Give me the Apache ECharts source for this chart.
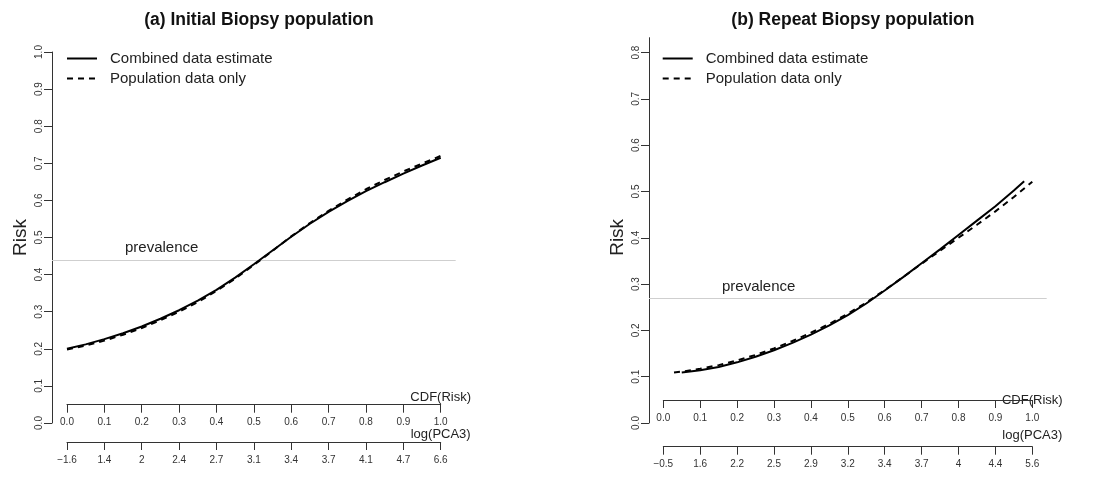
<!DOCTYPE html>
<html><head><meta charset="utf-8">
<script src="https://cdn.jsdelivr.net/npm/echarts@6/dist/echarts.min.js"></script>
<style>html,body{margin:0;padding:0;background:#fff}#c{width:1097px;height:477px}</style>
</head><body><div id="c"></div>
<script>
// ---- data ----
const cdfTicks = [0, 0.1, 0.2, 0.3, 0.4, 0.5, 0.6, 0.7, 0.8, 0.9, 1.0];
const pcaLabelsA = ["\u22121.6", "1.4", "2", "2.4", "2.7", "3.1", "3.4", "3.7", "4.1", "4.7", "6.6"];
const pcaLabelsB = ["\u22120.5", "1.6", "2.2", "2.5", "2.9", "3.2", "3.4", "3.7", "4", "4.4", "5.6"];
const riskTicksA = [0, 0.1, 0.2, 0.3, 0.4, 0.5, 0.6, 0.7, 0.8, 0.9, 1.0];
const riskTicksB = [0, 0.1, 0.2, 0.3, 0.4, 0.5, 0.6, 0.7, 0.8];

const cdfA = [0, 0.05, 0.1, 0.15, 0.2, 0.25, 0.3, 0.35, 0.4, 0.45, 0.5, 0.55, 0.6, 0.65, 0.7, 0.75, 0.8, 0.85, 0.9, 0.95, 1.0];
const combinedA = [0.200, 0.212, 0.226, 0.242, 0.260, 0.281, 0.304, 0.330, 0.359, 0.392, 0.428, 0.465, 0.502, 0.537, 0.569, 0.598, 0.625, 0.649, 0.672, 0.694, 0.715];
const populationA = [0.198, 0.209, 0.222, 0.238, 0.256, 0.277, 0.300, 0.326, 0.356, 0.389, 0.426, 0.464, 0.503, 0.539, 0.572, 0.602, 0.630, 0.655, 0.678, 0.699, 0.720];
const prevalenceA = 0.44;

const cdfCombinedB = [0.05, 0.1, 0.15, 0.2, 0.25, 0.3, 0.35, 0.4, 0.45, 0.5, 0.55, 0.6, 0.65, 0.7, 0.75, 0.8, 0.85, 0.9, 0.95, 0.978];
const combinedB = [0.109, 0.114, 0.121, 0.131, 0.143, 0.157, 0.173, 0.191, 0.211, 0.233, 0.258, 0.286, 0.315, 0.345, 0.375, 0.406, 0.437, 0.468, 0.502, 0.522];
const cdfPopulationB = [0.029, 0.05, 0.1, 0.15, 0.2, 0.25, 0.3, 0.35, 0.4, 0.45, 0.5, 0.55, 0.6, 0.65, 0.7, 0.75, 0.8, 0.85, 0.9, 0.95, 1.0];
const populationB = [0.109, 0.111, 0.117, 0.125, 0.135, 0.147, 0.161, 0.177, 0.195, 0.214, 0.236, 0.260, 0.287, 0.315, 0.344, 0.372, 0.400, 0.428, 0.457, 0.488, 0.521];
const prevalenceB = 0.267;

const titles = ["(a) Initial Biopsy population", "(b) Repeat Biopsy population"];
const seriesNames = ["Combined data estimate", "Population data only"];

// ---- styling helpers ----
const FONT = "'Liberation Sans', Arial, Helvetica, sans-serif";
const AX = '#333';
const TXT = '#222';
const zip = (xs, ys) => xs.map((x, i) => [x, ys[i]]);

function cdfAxis(grid, offset, nameOpts) {
  return {
    gridIndex: grid, type: 'value', position: 'bottom', min: 0, max: 1, interval: 0.1, offset: offset,
    axisLine: { show: true, onZero: false, lineStyle: { color: AX, width: 1 } },
    axisTick: { show: true, length: 8, lineStyle: { color: AX, width: 1 } },
    axisLabel: { fontSize: 10, color: AX, margin: 13, fontFamily: FONT, formatter: v => v.toFixed(1) },
    splitLine: { show: false },
    name: 'CDF(Risk)', nameLocation: 'end', nameGap: 0,
    nameTextStyle: Object.assign({ fontSize: 13, color: TXT, fontFamily: FONT, align: 'center' }, nameOpts)
  };
}
function pcaAxis(grid, offset, labels, nameOpts) {
  return {
    gridIndex: grid, type: 'value', position: 'bottom', min: 0, max: 1, interval: 0.1, offset: offset,
    axisLine: { show: true, onZero: false, lineStyle: { color: AX, width: 1 } },
    axisTick: { show: true, length: 8, lineStyle: { color: AX, width: 1 } },
    axisLabel: { fontSize: 10, color: AX, margin: 13, fontFamily: FONT, formatter: v => labels[Math.round(v * 10)] },
    splitLine: { show: false },
    name: 'log(PCA3)', nameLocation: 'end', nameGap: 0,
    nameTextStyle: Object.assign({ fontSize: 13, color: TXT, fontFamily: FONT, align: 'center' }, nameOpts)
  };
}
function hiddenX(grid) {
  return { gridIndex: grid, type: 'value', min: -0.04, max: 1.04, show: false, splitLine: { show: false } };
}
function hiddenY(grid, max) {
  return { gridIndex: grid, type: 'value', min: 0, max: max, show: false, splitLine: { show: false } };
}
function riskAxis(grid, max, ticks, namePad) {
  return {
    gridIndex: grid, type: 'value', position: 'left', min: 0, max: max,
    axisLine: { show: true, onZero: false, lineStyle: { color: AX, width: 1 } },
    axisTick: { show: true, length: 8, customValues: ticks, lineStyle: { color: AX, width: 1 } },
    axisLabel: { rotate: 90, fontSize: 10, color: AX, margin: 8, fontFamily: FONT, customValues: ticks, formatter: v => v.toFixed(1) },
    splitLine: { show: false },
    name: 'Risk', nameLocation: 'middle', nameGap: 22,
    nameTextStyle: { fontSize: 19, color: TXT, fontFamily: FONT, padding: namePad }
  };
}
function curve(name, xi, yi, data, dashed) {
  return {
    name: name, type: 'line', xAxisIndex: xi, yAxisIndex: yi, data: data,
    symbol: 'none', showSymbol: false, smooth: false,
    lineStyle: { color: '#000', width: 2, type: dashed ? [6, 5] : 'solid' },
    itemStyle: { color: '#000' }, z: 5
  };
}
function prevalence(xi, yi, value) {
  return {
    name: 'prevalence', type: 'line', xAxisIndex: xi, yAxisIndex: yi, data: [], silent: true,
    markLine: {
      silent: true, symbol: 'none', animation: false,
      lineStyle: { color: '#cfcfcf', width: 1, type: 'solid' },
      label: { show: true, formatter: 'prevalence', position: 'insideStartTop', distance: [73, 4], fontSize: 15, color: TXT, fontFamily: FONT },
      data: [{ yAxis: value }]
    }
  };
}
function legend(left) {
  return {
    data: seriesNames, left: left, top: 51, orient: 'vertical', padding: 0,
    itemWidth: 30, itemHeight: 14, itemGap: 5,
    itemStyle: { opacity: 0 },
    textStyle: { fontSize: 15, color: TXT, fontFamily: FONT, padding: [0, 0, 0, 8] }
  };
}

const option = {
  animation: false,
  backgroundColor: '#fff',
  textStyle: { fontFamily: FONT },
  title: [
    { text: titles[0], left: 253.9, top: 6, textAlign: 'center', textStyle: { fontSize: 17.5, fontWeight: 'bold', color: '#111', fontFamily: FONT } },
    { text: titles[1], left: 847.9, top: 6, textAlign: 'center', textStyle: { fontSize: 17.5, fontWeight: 'bold', color: '#111', fontFamily: FONT } }
  ],
  legend: [legend(66), legend(661.7)],
  grid: [
    { left: 67, top: 52, width: 373.7, height: 371, containLabel: false },
    { left: 52, top: 52, width: 403.7, height: 371, containLabel: false },
    { left: 663.3, top: 37.7, width: 369, height: 385.3, containLabel: false },
    { left: 649, top: 37.7, width: 397.7, height: 385.3, containLabel: false }
  ],
  xAxis: [
    cdfAxis(0, -18.3, { verticalAlign: 'bottom', padding: [0, 0, 1, 0] }),
    pcaAxis(0, 19, pcaLabelsA, { verticalAlign: 'bottom', padding: [0, 0, 1, 0] }),
    hiddenX(1),
    cdfAxis(2, -23, { verticalAlign: 'middle', padding: [0, 0, 5, 0] }),
    pcaAxis(2, 23.7, pcaLabelsB, { verticalAlign: 'bottom', padding: [0, 0, 5, 0] }),
    hiddenX(3)
  ],
  yAxis: [
    hiddenY(0, 1),
    riskAxis(1, 1, riskTicksA, [0, 0, 0, 0]),
    hiddenY(2, 0.832),
    riskAxis(3, 0.832, riskTicksB, [0, 14, 0, 0])
  ],
  series: [
    prevalence(2, 1, prevalenceA),
    curve(seriesNames[0], 0, 0, zip(cdfA, combinedA), false),
    curve(seriesNames[1], 0, 0, zip(cdfA, populationA), true),
    prevalence(5, 3, prevalenceB),
    curve(seriesNames[0], 3, 2, zip(cdfCombinedB, combinedB), false),
    curve(seriesNames[1], 3, 2, zip(cdfPopulationB, populationB), true)
  ]
};

const chart = echarts.init(document.getElementById('c'), null, { renderer: 'canvas' });
chart.setOption(option);
</script>
</body></html>
